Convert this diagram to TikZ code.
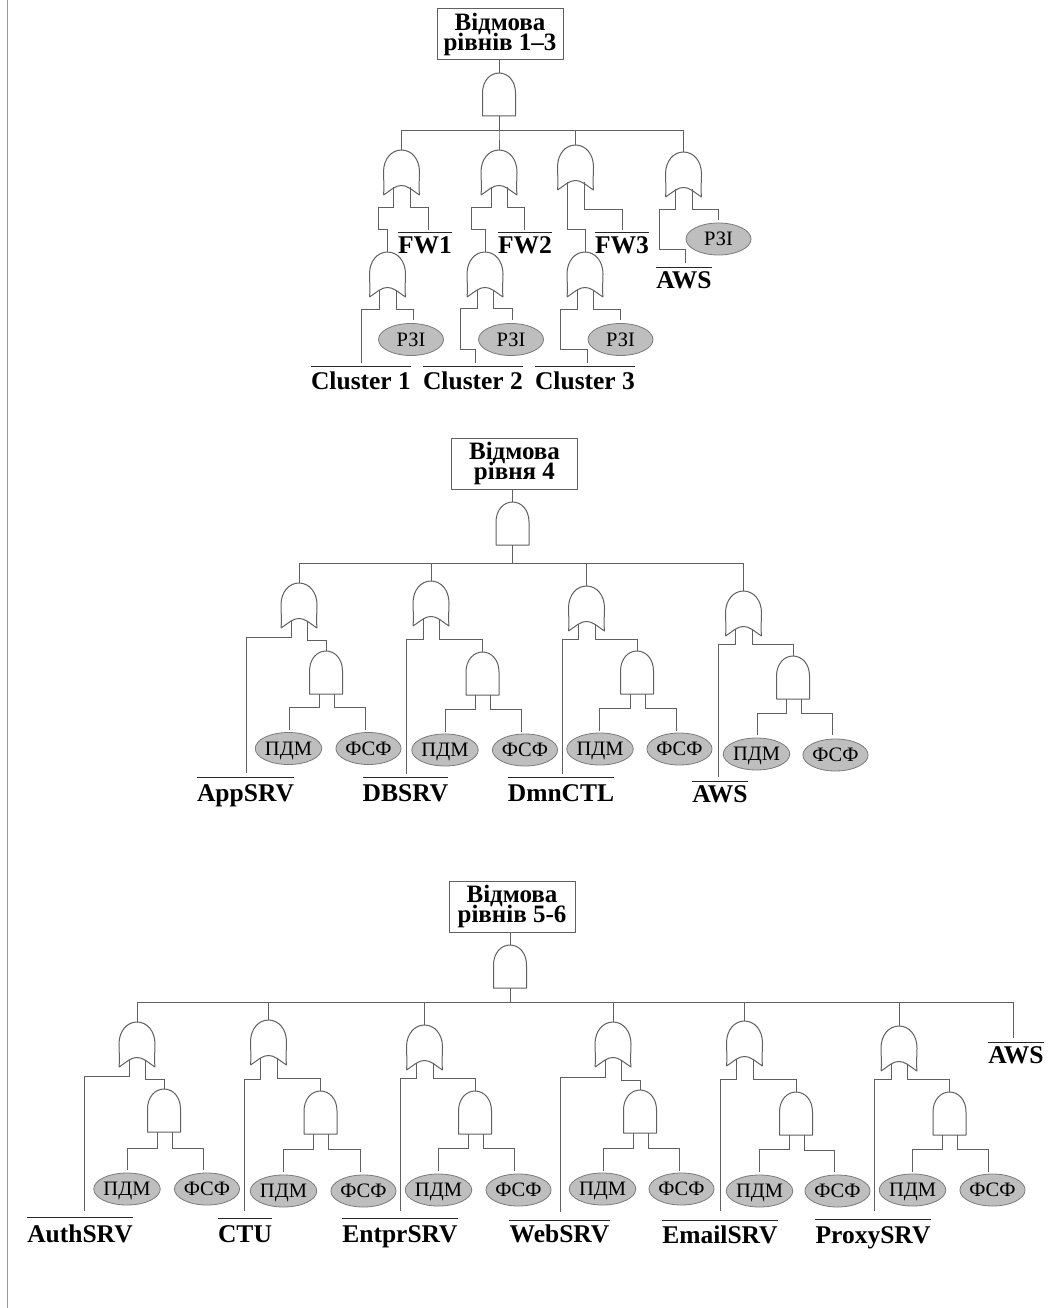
\documentclass[tikz,border=0pt]{standalone}
\usepackage{fontspec}
\setmainfont{Liberation Serif}
\definecolor{wirec}{HTML}{606060}
\definecolor{gatec}{HTML}{606060}
\definecolor{elfill}{HTML}{BEBEBE}
\definecolor{elline}{HTML}{7A7A7A}
\tikzset{
 wire/.style={draw=wirec,line width=1pt,line join=miter},
 gate/.style={draw=gatec,line width=1pt,line join=round},
 topbox/.style={draw=wirec,line width=1pt,minimum width=126pt,minimum height=51pt,inner sep=0pt,align=center,
   font=\fontsize{25}{18}\selectfont\bfseries},
 elps/.style={ellipse,draw=elline,fill=elfill,line width=0.8pt,minimum width=65pt,minimum height=32pt,inner sep=0pt,
   text height=13.5pt,text depth=0pt,font=\fontsize{20.5}{22}\selectfont},
 lab/.style={anchor=base,inner sep=0pt,font=\fontsize{25.5}{26}\selectfont\bfseries},
 bar/.style={draw=black!85,line width=1pt}
}
\usetikzlibrary{shapes.geometric}
% name, cx, top
\newcommand{\andgate}[3]{%
 \coordinate (#1-t) at (#2,#3);
 \coordinate (#1-b) at (#2,#3+43);
 \coordinate (#1-l) at (#2-7,#3+43);
 \coordinate (#1-r) at (#2+8,#3+43);
 \draw[gate] (#2-16.5,#3+43) -- (#2-16.5,#3+20) .. controls (#2-16.5,#3+8) and (#2-9,#3) .. (#2,#3)
   .. controls (#2+9,#3) and (#2+16.5,#3+8) .. (#2+16.5,#3+20) -- (#2+16.5,#3+43) -- cycle;
}
\newcommand{\orgate}[3]{%
 \coordinate (#1-t) at (#2,#3);
 \coordinate (#1-l) at (#2-8,#3+37.5);
 \coordinate (#1-r) at (#2+8.5,#3+37.5);
 \draw[gate] (#2-18,#3+45) .. controls (#2-17,#3+38) and (#2-18,#3+30) .. (#2-18,#3+22)
   .. controls (#2-18,#3+9) and (#2-10,#3) .. (#2,#3)
   .. controls (#2+10,#3) and (#2+18,#3+9) .. (#2+18,#3+22)
   .. controls (#2+18,#3+30) and (#2+17,#3+38) .. (#2+18,#3+45)
   .. controls (#2+9,#3+39) and (#2+6,#3+35.5) .. (#2,#3+35.5)
   .. controls (#2-6,#3+35.5) and (#2-9,#3+39) .. (#2-18,#3+45);
}
% name, cx, cy, text, in x, in y
\newcommand{\elnode}[6]{%
 \node[elps] (#1) at (#2,#3) {#4};
 \coordinate (#1-in) at (#5,#6);
}
% name, cx, baseline, overline y, text, in x, in y
\newcommand{\lbl}[7]{%
 \node[lab] (#1) at (#2,#3) {#5};
 \draw[bar] (#1.west |- 0,#4) -- (#1.east |- 0,#4);
 \coordinate (#1-in) at (#6,#7);
}
% from, y of horizontal run, to
\newcommand{\wireH}[3]{\draw[wire] (#1) -- (#1 |- 0,#2) -- (#3 |- 0,#2) -- (#3);}
\begin{document}
\begin{tikzpicture}[x=1pt,y=-1pt]
\useasboundingbox (0,0) rectangle (1055,1308);
\fill[white] (0,0) rectangle (1055,1308);
\coordinate (bt) at (7.5,0); \coordinate (bb) at (7.5,1308);
\draw[draw=black!40,line width=1.5pt] (bt) -- (bb);

%%%%% Section 1
\node[topbox] (b1) at (500,34.5) {Відмова\\[-2.5pt]рівнів 1–3};
\andgate{a1}{499}{73}
\draw[wire] (b1.south -| a1-t) -- (a1-t);
\orgate{o11}{401.5}{150}
\orgate{o12}{499}{150}
\orgate{o13}{575.5}{145}
\orgate{o14}{683.5}{152}
\wireH{a1-b}{130.5}{o11-t}
\wireH{a1-b}{130.5}{o12-t}
\wireH{a1-b}{130.5}{o13-t}
\wireH{a1-b}{130.5}{o14-t}
\orgate{o15}{387.5}{252}
\orgate{o16}{485}{252}
\orgate{o17}{585}{252}
\lbl{fw1}{425}{253}{232}{FW1}{428}{230}
\lbl{fw2}{525}{253}{232}{FW2}{524}{230}
\lbl{fw3}{622}{253}{232}{FW3}{622}{230}
\draw[wire] (o11-l) |- (378,207) -- (378,229) -| (o15-t);
\draw[wire] (o12-l) |- (471,207) -- (471,229) -| (o16-t);
\draw[wire] (o13-l) |- (585,229) -- (o17-t);
\wireH{o11-r}{207}{fw1-in}
\wireH{o12-r}{207}{fw2-in}
\wireH{o13-r}{209}{fw3-in}
\elnode{e11}{411}{339.5}{РЗІ}{413}{320}
\elnode{e12}{511}{339.5}{РЗІ}{512}{320}
\elnode{e13}{620.5}{339.5}{РЗІ}{620}{320}
\elnode{e14}{718.5}{239}{РЗІ}{718}{220}
\lbl{c1}{361}{389}{366}{Cluster 1}{361}{363}
\lbl{c2}{473}{389}{366}{Cluster 2}{475}{363}
\lbl{c3}{585}{389}{366}{Cluster 3}{587}{363}
\lbl{aws1}{684}{288}{267}{AWS}{685}{263}
\wireH{o15-l}{309}{c1-in}
\wireH{o15-r}{309}{e11-in}
\draw[wire] (o16-l) |- (460,308) -- (460,349) -| (c2-in);
\wireH{o16-r}{308}{e12-in}
\draw[wire] (o17-l) |- (560,309) -- (560,349) -| (c3-in);
\wireH{o17-r}{309}{e13-in}
\draw[wire] (o14-l) |- (659,209) -- (659,249) -| (aws1-in);
\wireH{o14-r}{209}{e14-in}

%%%%% Section 2
\node[topbox] (b2) at (514.5,463.5) {Відмова\\[-2.5pt]рівня 4};
\andgate{a2}{512.5}{502}
\draw[wire] (b2.south -| a2-t) -- (a2-t);
\orgate{o21}{299}{583}
\orgate{o22}{431}{581}
\orgate{o23}{586.5}{586}
\orgate{o24}{743.5}{591}
\wireH{a2-b}{563}{o21-t}
\wireH{a2-b}{563}{o22-t}
\wireH{a2-b}{563}{o23-t}
\wireH{a2-b}{563}{o24-t}
\andgate{a21}{326}{651}
\andgate{a22}{482.5}{652}
\andgate{a23}{637}{651}
\andgate{a24}{793}{656}
\wireH{o21-r}{640}{a21-t}
\wireH{o22-r}{639}{a22-t}
\wireH{o23-r}{639}{a23-t}
\wireH{o24-r}{644}{a24-t}
\lbl{app}{245.5}{801}{777}{AppSRV}{246}{773}
\lbl{db}{405.5}{801}{777}{DBSRV}{406}{774}
\lbl{dmn}{561}{801}{777}{DmnCTL}{562}{774}
\lbl{aws2}{720}{802}{781}{AWS}{718}{777}
\wireH{o21-l}{637}{app-in}
\wireH{o22-l}{639}{db-in}
\wireH{o23-l}{639}{dmn-in}
\wireH{o24-l}{644}{aws2-in}
\elnode{p21}{288.5}{748.5}{ПДМ}{289}{730}
\elnode{f21}{368.5}{748.5}{ФСФ}{365}{730}
\elnode{p22}{445}{750}{ПДМ}{445}{732}
\elnode{f22}{525}{750}{ФСФ}{521}{732}
\elnode{p23}{600}{749}{ПДМ}{599}{731}
\elnode{f23}{679.5}{749}{ФСФ}{676}{731}
\elnode{p24}{756.5}{754}{ПДМ}{757}{735}
\elnode{f24}{835.5}{755}{ФСФ}{832}{735}
\wireH{a21-l}{707}{p21-in}
\wireH{a21-r}{707}{f21-in}
\wireH{a22-l}{709}{p22-in}
\wireH{a22-r}{709}{f22-in}
\wireH{a23-l}{708}{p23-in}
\wireH{a23-r}{708}{f23-in}
\wireH{a24-l}{713}{p24-in}
\wireH{a24-r}{713}{f24-in}

%%%%% Section 3
\node[topbox] (b3) at (512,906.5) {Відмова\\[-2.5pt]рівнів 5-6};
\andgate{a3}{510}{945}
\draw[wire] (b3.south -| a3-t) -- (a3-t);
\orgate{o31}{137}{1022}
\orgate{o32}{268.5}{1020}
\orgate{o33}{424.5}{1025}
\orgate{o34}{613}{1022}
\orgate{o35}{744.5}{1021}
\orgate{o36}{899}{1026}
\lbl{aws3}{1016}{1063}{1042}{AWS}{1013}{1038}
\wireH{a3-b}{1002.5}{o31-t}
\wireH{a3-b}{1002.5}{o32-t}
\wireH{a3-b}{1002.5}{o33-t}
\wireH{a3-b}{1002.5}{o34-t}
\wireH{a3-b}{1002.5}{o35-t}
\wireH{a3-b}{1002.5}{o36-t}
\wireH{a3-b}{1002.5}{aws3-in}
\andgate{a31}{164}{1089}
\andgate{a32}{320.5}{1091}
\andgate{a33}{475}{1091}
\andgate{a34}{640}{1090}
\andgate{a35}{796}{1092}
\andgate{a36}{949.5}{1092}
\wireH{o31-r}{1079}{a31-t}
\wireH{o32-r}{1078}{a32-t}
\wireH{o33-r}{1078}{a33-t}
\wireH{o34-r}{1080}{a34-t}
\wireH{o35-r}{1079}{a35-t}
\wireH{o36-r}{1079}{a36-t}
\lbl{auth}{80}{1242}{1217}{AuthSRV}{84}{1211}
\lbl{ctu}{245}{1242}{1218}{CTU}{244}{1211}
\lbl{ent}{400}{1242}{1218}{EntprSRV}{400}{1211}
\lbl{web}{559.5}{1242}{1220}{WebSRV}{560}{1212}
\lbl{eml}{720}{1243}{1220}{EmailSRV}{720}{1211}
\lbl{prx}{873}{1243}{1219}{ProxySRV}{874}{1211}
\wireH{o31-l}{1076}{auth-in}
\wireH{o32-l}{1079}{ctu-in}
\wireH{o33-l}{1078}{ent-in}
\wireH{o34-l}{1077}{web-in}
\wireH{o35-l}{1079}{eml-in}
\wireH{o36-l}{1079}{prx-in}
\elnode{p31}{127}{1189}{ПДМ}{127}{1170}
\elnode{f31}{207}{1189}{ФСФ}{203}{1170}
\elnode{p32}{283.5}{1191}{ПДМ}{283}{1172}
\elnode{f32}{363.5}{1191}{ФСФ}{360}{1172}
\elnode{p33}{438.5}{1190}{ПДМ}{438}{1171}
\elnode{f33}{518.5}{1190}{ФСФ}{514}{1171}
\elnode{p34}{602.5}{1189}{ПДМ}{603}{1171}
\elnode{f34}{681.5}{1189}{ФСФ}{679}{1171}
\elnode{p35}{759.5}{1191}{ПДМ}{759}{1172}
\elnode{f35}{837.5}{1191}{ФСФ}{834}{1172}
\elnode{p36}{912.5}{1190}{ПДМ}{912}{1172}
\elnode{f36}{992.5}{1190}{ФСФ}{988}{1172}
\wireH{a31-l}{1148}{p31-in}
\wireH{a31-r}{1148}{f31-in}
\wireH{a32-l}{1149}{p32-in}
\wireH{a32-r}{1149}{f32-in}
\wireH{a33-l}{1148}{p33-in}
\wireH{a33-r}{1148}{f33-in}
\wireH{a34-l}{1148}{p34-in}
\wireH{a34-r}{1148}{f34-in}
\wireH{a35-l}{1149}{p35-in}
\wireH{a35-r}{1150}{f35-in}
\wireH{a36-l}{1149}{p36-in}
\wireH{a36-r}{1149}{f36-in}
\end{tikzpicture}
\end{document}
